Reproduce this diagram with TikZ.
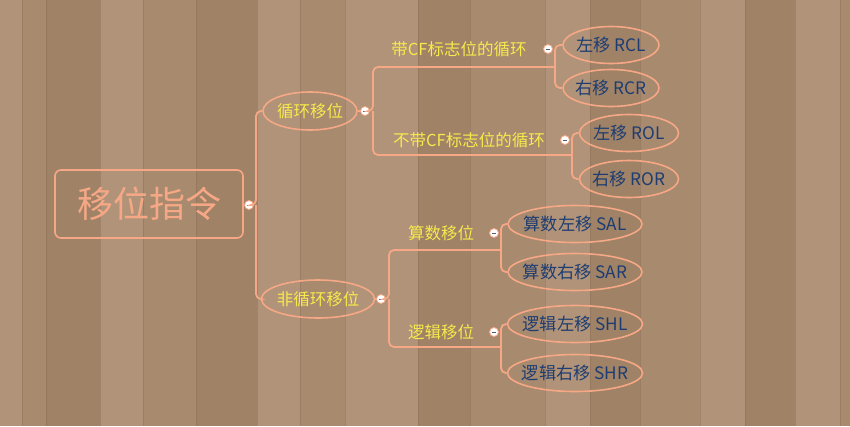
\documentclass[tikz,border=0pt]{standalone}
\usepackage{fontspec}
\setmainfont{Noto Sans CJK SC}
\usetikzlibrary{positioning,shapes.geometric}

\definecolor{salmon}{HTML}{F6A886}
\definecolor{topicyel}{HTML}{F6EA4C}
\definecolor{leafblue}{HTML}{1D3D72}
\definecolor{wood}{HTML}{A88A6F}
\definecolor{woodlt}{HTML}{B09378}
\definecolor{wooddk}{HTML}{A08267}
\definecolor{seam}{HTML}{7E614A}

\tikzset{
  rootbox/.style={draw=salmon, line width=1.6pt, rounded corners=6pt,
    minimum width=188pt, minimum height=68pt, text=salmon,
    font=\fontsize{36}{40}\selectfont},
  topic/.style={ellipse, draw=salmon, line width=1.6pt, inner xsep=-4pt,
    inner ysep=0pt, minimum height=38pt, minimum width=#1, text=topicyel,
    font=\fontsize{16.5}{18}\selectfont},
  subtopic/.style={inner sep=0pt, text=topicyel, font=\fontsize{16.5}{18}\selectfont},
  leaf/.style={ellipse, draw=salmon, line width=1.6pt, inner xsep=-6pt,
    inner ysep=0pt, minimum height=37pt, minimum width=#1, text=leafblue,
    font=\fontsize{17.2}{19}\selectfont},
  fold/.style={circle, draw=salmon, fill=white, line width=0.8pt,
    minimum size=9pt, inner sep=0pt,
    path picture={\draw[leafblue!50!gray, line width=1pt]
      ([xshift=-2.3pt]path picture bounding box.center) --
      ([xshift=2.3pt]path picture bounding box.center);}},
  branch/.style={draw=salmon, line width=1.8pt, rounded corners=5pt},
}

\begin{document}
\begin{tikzpicture}[x=1pt,y=-1pt]
\useasboundingbox (0,0) rectangle (850,426);
% wooden planks
\fill[wood] (0,0) rectangle (850,426);
\foreach \xa/\xb/\c in {0/22/woodlt, 22/46/wood, 46/100/wooddk, 100/143/woodlt,
    143/196/wood, 196/257/wooddk, 257/300/woodlt, 300/345/wood, 345/418/woodlt,
    418/470/wooddk, 470/545/wood, 545/590/woodlt, 590/640/wooddk, 640/700/wood,
    700/745/woodlt, 745/795/wooddk, 795/840/woodlt, 840/850/wood}
  \fill[\c] (\xa,0) rectangle (\xb,426);
\foreach \xa in {22,46,100,143,196,257,300,345,418,470,545,590,640,700,745,795,840}
  \draw[seam, line width=0.7pt, opacity=0.3] (\xa,0) -- (\xa,426);

% topics
\node[rootbox] (root) at (149,204) {移位指令};
\node[fold] (f0) at (249,205) {};
\node[topic=94pt] (cyc) at (310,111) {循环移位};
\node[fold] (f1) at (365,111) {};
\node[topic=113pt] (ncyc) at (318,299) {非循环移位};
\node[fold] (f2) at (381,299) {};

\node[subtopic] (rcf) at (459,49) {带CF标志位的循环};
\node[fold] (f11) at (548,49) {};
\node[subtopic] (rncf) at (469,140) {不带CF标志位的循环};
\node[fold] (f12) at (565,140) {};
\node[subtopic] (arith) at (441,233) {算数移位};
\node[fold] (f21) at (494,233) {};
\node[subtopic] (logic) at (441,332) {逻辑移位};
\node[fold] (f22) at (494,332) {};

% leaves
\node[leaf=96pt] (rcl) at (611,45) {左移 RCL};
\node[leaf=96pt] (rcr) at (611,88) {右移 RCR};
\node[leaf=99pt] (rol) at (629,133) {左移 ROL};
\node[leaf=99pt] (ror) at (629,179) {右移 ROR};
\node[leaf=134pt] (sal) at (575,224) {算数左移 SAL};
\node[leaf=134pt] (sar) at (575,272) {算数右移 SAR};
\node[leaf=135pt] (shl) at (575,324) {逻辑左移 SHL};
\node[leaf=135pt] (shr) at (575,373) {逻辑右移 SHR};

% junctions
\coordinate (j0) at (256,205);
\coordinate (j1) at (373,111);
\coordinate (j2) at (389,299);
\coordinate (k11) at (555,67);
\coordinate (k12) at (572,155);
\coordinate (k21) at (501,250);
\coordinate (k22) at (501,347);

\draw[branch] (root) -- (f0);
\draw[branch] (f0) -- (j0) |- (cyc);
\draw[branch] (j0) |- (ncyc);
\draw[branch] (cyc) -- (f1);
\draw[branch] (ncyc) -- (f2);

\draw[branch] (f1) -- (j1) |- (k11);
\draw[branch] (j1) |- (k12);
\draw[branch] (k11) |- (rcl);
\draw[branch] (k11) |- (rcr);
\draw[branch] (k12) |- (rol);
\draw[branch] (k12) |- (ror);

\draw[branch] (f2) -- (j2) |- (k21);
\draw[branch] (j2) |- (k22);
\draw[branch] (k21) |- (sal);
\draw[branch] (k21) |- (sar);
\draw[branch] (k22) |- (shl);
\draw[branch] (k22) |- (shr);
\end{tikzpicture}
\end{document}
